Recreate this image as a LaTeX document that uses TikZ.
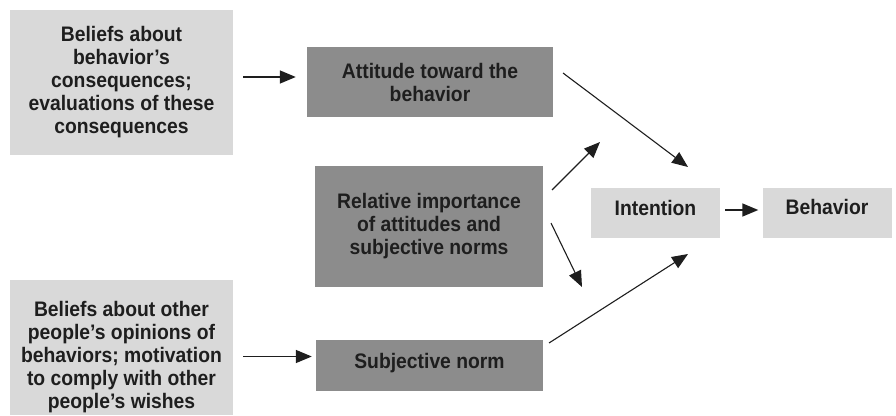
\documentclass[tikz,border=0pt]{standalone}
\usepackage{fontspec}
\setmainfont[FakeStretch=0.92]{Liberation Sans}
\usetikzlibrary{arrows.meta}
\definecolor{lightbox}{HTML}{D9D9D9}
\definecolor{darkbox}{HTML}{8C8C8C}
\definecolor{txt}{HTML}{1E1E1E}
\newcommand{\dn}[1]{\rule{0pt}{#1}}
\newcommand{\up}[1]{\rule[-#1]{0pt}{#1}}
\begin{document}
\begin{tikzpicture}[x=1pt,y=-1pt,
  box/.style={draw=none, inner sep=0pt, align=center,
    font=\bfseries\fontsize{21}{23}\selectfont, text=txt},
  light/.style={box, fill=lightbox},
  dark/.style={box, fill=darkbox},
  arr/.style={-{Triangle[length=16pt,width=13pt]}, line width=1.5pt, draw=txt},
  darr/.style={-{Triangle[length=16pt,width=13pt]}, line width=1.1pt, draw=txt}]
\useasboundingbox (0,0) rectangle (896,415);

% nodes
\node[light, minimum width=223pt, minimum height=145pt] (b1) at (121.5,82.5)
  {Beliefs about\\behavior's\\consequences;\\evaluations of these\\consequences};
\node[dark, minimum width=246pt, minimum height=70pt] (b2) at (430,82)
  {Attitude toward the\\behavior};
\node[dark, minimum width=228pt, minimum height=121pt] (b3) at (429,226.5)
  {Relative importance\\of attitudes and\\subjective norms};
\node[light, minimum width=129pt, minimum height=50pt] (in) at (655.5,213)
  {\up{10pt}Intention};
\node[light, minimum width=129pt, minimum height=50pt] (bh) at (827,213)
  {\up{12pt}Behavior};
\node[light, minimum width=223pt, minimum height=135pt] (b6) at (121.5,347.5)
  {\dn{34pt}Beliefs about other\\people's opinions of\\behaviors; motivation\\to comply with other\\people's wishes};
\node[dark, minimum width=227pt, minimum height=51pt] (sn) at (429.5,365.5)
  {\up{10pt}Subjective norm};

% horizontal connectors
\coordinate (a1e) at ([yshift=5pt]b2.west);
\draw[arr, shorten <=10pt, shorten >=11pt] (b1.east |- a1e) -- (a1e);
\coordinate (a2e) at ([yshift=3pt]bh.west);
\draw[arr, shorten <=5pt, shorten >=4pt] (in.east |- a2e) -- (a2e);
\coordinate (a3e) at ([yshift=9pt]sn.west);
\draw[arr, shorten <=10pt, shorten >=4pt] (b6.east |- a3e) -- (a3e);

% diagonal connectors (free ends)
\coordinate (d1s) at (563,73);
\coordinate (d1e) at (688,167);
\coordinate (d2s) at (552,190);
\coordinate (d2e) at (600,142);
\coordinate (d3s) at (551,223);
\coordinate (d3e) at (582,287);
\coordinate (d4s) at (549,343);
\coordinate (d4e) at (688,254);
\draw[darr] (d1s) -- (d1e);
\draw[darr] (d2s) -- (d2e);
\draw[darr] (d3s) -- (d3e);
\draw[darr] (d4s) -- (d4e);
\end{tikzpicture}
\end{document}
